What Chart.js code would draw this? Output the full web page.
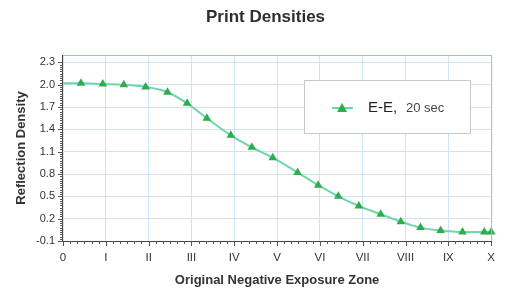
<!DOCTYPE html>
<html>
<head>
<meta charset="utf-8">
<script src="https://cdn.jsdelivr.net/npm/chart.js@4.4.0/dist/chart.umd.min.js"></script>
<style>
  html, body { margin: 0; padding: 0; background: #fff; }
  #wrap { width: 505px; height: 288px; }
</style>
</head>
<body>
<div id="wrap"><canvas id="myChart" width="505" height="288"></canvas></div>
<script>
// data
const zoneLabels = ["0", "I", "II", "III", "IV", "V", "VI", "VII", "VIII", "IX", "X"];
const yTickValues = [-0.1, 0.2, 0.5, 0.8, 1.1, 1.4, 1.7, 2.0, 2.3];
const zones = [0, 0.42, 0.93, 1.42, 1.93, 2.44, 2.9, 3.36, 3.92, 4.41, 4.9, 5.48, 5.96, 6.43, 6.91, 7.42, 7.89, 8.35, 8.82, 9.33, 9.84, 10];
const densities = [2.02, 2.02, 2.01, 2.0, 1.97, 1.9, 1.75, 1.55, 1.32, 1.16, 1.02, 0.82, 0.65, 0.5, 0.37, 0.26, 0.16, 0.08, 0.04, 0.02, 0.02, 0.02];
const chartTitle = "Print Densities";
const seriesName = "E-E,";
const seriesNote = "20 sec";

const lineColor = "rgb(112,212,172)";
const markerColor = "rgb(46,172,78)";
const gridColor = "rgb(205,228,246)";
const fontFamily = "'Liberation Sans', Arial, sans-serif";

// title, small tick marks, borders and the boxed legend
const extras = {
  id: "extras",
  afterDraw(chart) {
    const ctx = chart.ctx;
    const a = chart.chartArea;
    const xs = chart.scales.x, ys = chart.scales.y;
    ctx.save();
    // title (sits a bit right of the canvas centre, as in the original)
    ctx.fillStyle = "#2f2f2f";
    ctx.font = "bold 17px " + fontFamily;
    ctx.textAlign = "center";
    ctx.textBaseline = "middle";
    ctx.fillText(chartTitle, a.left + (a.right - a.left) * 0.473, 17);
    ctx.textAlign = "left";

    // top and right border
    ctx.strokeStyle = "rgb(170,185,205)";
    ctx.lineWidth = 1;
    ctx.beginPath();
    ctx.moveTo(a.left, a.top + 0.5);
    ctx.lineTo(a.right + 0.5, a.top + 0.5);
    ctx.lineTo(a.right + 0.5, a.bottom);
    ctx.stroke();
    // axis lines
    ctx.strokeStyle = "#444";
    ctx.beginPath();
    ctx.moveTo(a.left - 0.5, a.top);
    ctx.lineTo(a.left - 0.5, a.bottom + 0.5);
    ctx.lineTo(a.right + 1, a.bottom + 0.5);
    ctx.stroke();
    // x minor / major ticks
    ctx.strokeStyle = "#555";
    ctx.beginPath();
    for (let i = 0; i <= 60; i++) {
      const px = Math.round(xs.getPixelForValue(i / 6)) + 0.5;
      const len = i % 6 === 0 ? 5 : 3;
      ctx.moveTo(px, a.bottom);
      ctx.lineTo(px, a.bottom + len);
    }
    // y minor / major ticks
    for (let i = 0; i <= 80; i++) {
      const v = -0.1 + i * 0.03;
      const py = Math.round(ys.getPixelForValue(v)) + 0.5;
      const len = i % 10 === 0 ? 5 : 3;
      ctx.moveTo(a.left, py);
      ctx.lineTo(a.left - len, py);
    }
    ctx.stroke();

    // legend box
    const bx = a.left + 241, by = a.top + 25, bw = 166, bh = 53;
    ctx.fillStyle = "#fff";
    ctx.fillRect(bx, by, bw, bh);
    ctx.strokeStyle = "rgb(200,200,200)";
    ctx.strokeRect(bx + 0.5, by + 0.5, bw, bh);
    const cy = by + 28;
    ctx.strokeStyle = lineColor;
    ctx.lineWidth = 2;
    ctx.beginPath();
    ctx.moveTo(bx + 28, cy);
    ctx.lineTo(bx + 49, cy);
    ctx.stroke();
    ctx.fillStyle = markerColor;
    ctx.beginPath();
    ctx.moveTo(bx + 38, cy - 5);
    ctx.lineTo(bx + 43, cy + 4);
    ctx.lineTo(bx + 33, cy + 4);
    ctx.closePath();
    ctx.fill();
    ctx.fillStyle = "#222";
    ctx.font = "15px " + fontFamily;
    ctx.fillText(seriesName, bx + 64, cy);
    ctx.fillStyle = "#444";
    ctx.font = "13px " + fontFamily;
    ctx.fillText(seriesNote, bx + 102, cy);
    ctx.restore();
  }
};

const chartData = {
  datasets: [{
    label: seriesName + " " + seriesNote,
    data: zones.map((z, i) => ({ x: z, y: densities[i] })),
    borderColor: lineColor,
    borderWidth: 2,
    backgroundColor: markerColor,
    pointStyle: "triangle",
    pointRadius: (c) => (c.dataIndex === 0 ? 0 : 5),
    pointBorderWidth: 0,
    pointBorderColor: markerColor,
    cubicInterpolationMode: "monotone",
    clip: false
  }]
};

new Chart(document.getElementById("myChart").getContext("2d"), {
  type: "line",
  data: chartData,
  options: {
    responsive: false,
    animation: false,
    layout: { padding: { left: 0, right: 11, top: 55, bottom: 0 } },
    plugins: {
      legend: { display: false },
      tooltip: { enabled: false },
      title: { display: false }
    },
    scales: {
      x: {
        type: "linear",
        min: 0,
        max: 10,
        ticks: {
          stepSize: 1,
          color: "#333",
          padding: 10,
          maxRotation: 0,
          font: { family: fontFamily, size: 11.5 },
          callback: (v) => zoneLabels[v]
        },
        grid: { color: gridColor, tickLength: 0 },
        border: { display: false },
        title: {
          display: true,
          text: "Original Negative Exposure Zone",
          color: "#333",
          font: { family: fontFamily, size: 13, weight: "bold" },
          padding: { top: 0, bottom: 0 }
        },
        afterFit: (s) => { s.height = 47; }
      },
      y: {
        min: -0.1,
        max: 2.4,
        afterBuildTicks: (s) => { s.ticks = yTickValues.map((v) => ({ value: v })); },
        ticks: {
          color: "#333",
          padding: 8,
          font: { family: fontFamily, size: 11 },
          callback: (v) => v.toFixed(1)
        },
        grid: { color: gridColor, tickLength: 0 },
        border: { display: false },
        title: {
          display: true,
          text: "Reflection Density",
          color: "#333",
          font: { family: fontFamily, size: 13, weight: "bold" },
          padding: { top: 14, bottom: 0 }
        },
        afterFit: (s) => { s.width = 63; }
      }
    }
  },
  plugins: [extras]
});
</script>
</body>
</html>
